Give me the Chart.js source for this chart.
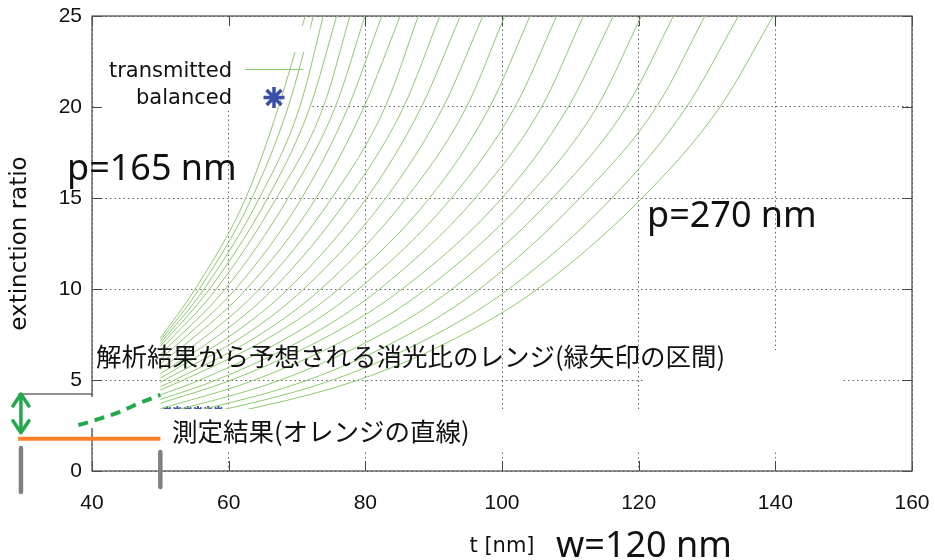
<!DOCTYPE html>
<html>
<head>
<meta charset="utf-8">
<script src="https://cdn.jsdelivr.net/npm/chart.js@4.4.0/dist/chart.umd.min.js"></script>
<style>
  html, body { margin: 0; padding: 0; background: #fff; }
</style>
</head>
<body>
<canvas id="out" width="935" height="560"></canvas>
<script>
// grating pitch of each simulated curve [nm]
const pitchNm = [165, 170, 175, 180, 185, 190, 195, 200, 205, 210, 215, 220, 225, 230, 235, 240, 245, 250, 255, 260, 265, 270];
// extinction ratio where each curve begins (t = 50 nm)
const startER = [7.3, 7.15, 7.0, 6.85, 6.65, 6.4, 6.15, 5.9, 5.62, 5.35, 5.1, 4.87, 4.63, 4.45, 4.18, 3.93, 3.72, 3.42, 3.1, 2.8, 2.55, 2.32];
// thickness t [nm] where each curve passes ER = 5, 7.5, 10, 15, 20, 25
const tAt5 = [null, null, null, null, null, null, null, null, null, null, null, null, 52.1, 53.4, 55.8, 58.2, 60.4, 63.8, 67.6, 71.6, 75.2, 79.0];
const tAt7_5 = [null, null, null, null, null, null, 54.1, 55.4, 57.0, 58.7, 60.5, 62.5, 64.6, 66.7, 69.4, 72.2, 75.0, 78.5, 82.3, 86.3, 90.3, 94.3];
const tAt10 = [55.1, 55.7, 56.4, 57.2, 58.2, 59.5, 61.0, 62.6, 64.5, 66.5, 68.7, 71.0, 73.5, 76.1, 79.0, 82.1, 85.4, 88.9, 92.7, 96.7, 101.0, 105.2];
const tAt15 = [62.5, 63.4, 64.5, 65.7, 67.0, 68.7, 70.7, 72.8, 75.1, 77.5, 80.2, 83.0, 86.0, 89.4, 92.6, 96.1, 100.0, 103.6, 107.4, 111.4, 116.1, 120.5];
const tAt20 = [67.3, 68.7, 70.4, 71.9, 73.85, 75.6, 77.5, 79.8, 82.9, 85.6, 88.2, 91.4, 94.8, 98.2, 101.9, 105.8, 109.7, 113.9, 118.2, 122.6, 127.0, 131.9];
const tAt25 = [71.2, 72.4, 73.85, 75.8, 77.75, 79.95, 82.4, 85.1, 87.75, 90.9, 93.9, 97.2, 100.4, 104.1, 108.0, 111.9, 116.3, 120.4, 125.1, 129.7, 134.6, 139.7];

// balanced points along the bottom
const balancedT = [51, 52.5, 54, 55.5, 57, 58.5];
const balancedER = [3.3, 3.3, 3.3, 3.3, 3.3, 3.3];

// extrapolated range (green dashed) and measurement (orange)
const dashedT = [32, 35, 38, 41, 44, 47, 50];
const dashedER = [2.25, 2.36, 2.53, 2.86, 3.24, 3.74, 4.18];
const measuredT = [29.2, 50];
const measuredER = [1.77, 1.77];
const rangeT = 29.6;
const rangeER = [4.23, 2.1];
const rangeLineT = [29.2, 40];
const barT = [29.6, 50];
const barTop = [1.26, 1.04];
const barBottom = [-1.15, -0.88];

const xTicks = [40, 60, 80, 100, 120, 140, 160];
const yTicks = [0, 5, 10, 15, 20, 25];

const curveColor = '#8ccb6c';
const arrowGreen = '#22a94a';
const starBlue = '#3a50a8';

const levels = [[tAt5, 5], [tAt7_5, 7.5], [tAt10, 10], [tAt15, 15], [tAt20, 20], [tAt25, 25]];

function curvePoints(i) {
  const pts = [{x: 50, y: startER[i]}];
  levels.forEach(([arr, v]) => {
    if (arr[i] !== null) pts.push({x: arr[i], y: v});
  });
  return pts;
}

const datasets = pitchNm.map((p, i) => ({
  label: 'p=' + p,
  data: curvePoints(i),
  borderColor: curveColor,
  borderWidth: 1,
  pointRadius: 0,
  cubicInterpolationMode: 'monotone',
  order: 1
}));

// balanced markers sit with the curves, under the text boxes
datasets.push({
  label: 'balanced',
  data: balancedT.map((t, i) => ({x: t, y: balancedER[i]})),
  showLine: false,
  pointStyle: 'star',
  pointRadius: 5,
  pointBorderWidth: 2,
  pointBorderColor: starBlue,
  order: 1
});

function note(extra) {
  return Object.assign({pointRadius: 0, clip: false, order: 0, tension: 0}, extra);
}

barT.forEach((t, i) => {
  datasets.push(note({
    data: [{x: t, y: barTop[i]}, {x: t, y: barBottom[i]}],
    borderColor: '#808080',
    borderWidth: 4.5,
    borderCapStyle: 'round'
  }));
});
datasets.push(note({
  data: measuredT.map((t, i) => ({x: t, y: measuredER[i]})),
  borderColor: '#ff7f27',
  borderWidth: 4
}));
datasets.push(note({
  data: rangeLineT.map(t => ({x: t, y: rangeER[0]})),
  borderColor: '#222',
  borderWidth: 1
}));
datasets.push(note({
  data: dashedT.map((t, i) => ({x: t, y: dashedER[i]})),
  borderColor: arrowGreen,
  borderWidth: 4,
  borderDash: [10, 7],
  cubicInterpolationMode: 'monotone'
}));
const arrowIndex = datasets.length;
datasets.push(note({
  data: rangeER.map(v => ({x: rangeT, y: v})),
  borderColor: arrowGreen,
  borderWidth: 3.5
}));

// white text boxes laid over the plot
const coverBoxes = [[150, 409, 645, 452], [645, 350, 843, 452], [85, 397, 160, 428], [250, 26, 310, 52]];
let coversDone = false;

const framePlugin = {
  id: 'frame',
  beforeDatasetsDraw(chart) {
    const {ctx, chartArea: a, scales: {x, y}} = chart;
    coversDone = false;
    ctx.save();
    // opaque key area
    ctx.fillStyle = '#fff';
    ctx.fillRect(a.left + 2, a.top + 1, 312 - a.left - 2, 111 - a.top - 1);
    ctx.strokeStyle = '#444';
    ctx.lineWidth = 1;
    ctx.beginPath();
    xTicks.forEach(v => {
      const px = Math.round(x.getPixelForValue(v)) + 0.5;
      ctx.moveTo(px, a.bottom); ctx.lineTo(px, a.bottom - 10);
      ctx.moveTo(px, a.top); ctx.lineTo(px, a.top + 10);
    });
    yTicks.forEach(v => {
      const py = Math.round(y.getPixelForValue(v)) + 0.5;
      ctx.moveTo(a.left, py); ctx.lineTo(a.left + 10, py);
      ctx.moveTo(a.right, py); ctx.lineTo(a.right - 10, py);
    });
    ctx.stroke();
    ctx.strokeStyle = '#555';
    ctx.lineWidth = 1.3;
    ctx.strokeRect(a.left, a.top, a.right - a.left, a.bottom - a.top);
    ctx.restore();
  },
  beforeDatasetDraw(chart, args) {
    if (chart.data.datasets[args.index].order !== 0 || coversDone) return;
    coversDone = true;
    const ctx = chart.ctx;
    ctx.save();
    ctx.fillStyle = '#fff';
    coverBoxes.forEach(([x1, y1, x2, y2]) => ctx.fillRect(x1, y1, x2 - x1, y2 - y1));
    ctx.restore();
  },
  afterDatasetsDraw(chart) {
    // heads of the double arrow
    const ctx = chart.ctx;
    const pts = chart.getDatasetMeta(arrowIndex).data;
    if (pts.length < 2) return;
    const top = pts[0], bot = pts[1];
    ctx.save();
    ctx.strokeStyle = arrowGreen;
    ctx.lineWidth = 3.5;
    ctx.lineCap = 'round';
    ctx.lineJoin = 'round';
    ctx.beginPath();
    ctx.moveTo(top.x - 8, top.y + 12); ctx.lineTo(top.x, top.y); ctx.lineTo(top.x + 8, top.y + 12);
    ctx.moveTo(bot.x - 8, bot.y - 12); ctx.lineTo(bot.x, bot.y); ctx.lineTo(bot.x + 8, bot.y - 12);
    ctx.stroke();
    ctx.restore();
  },
  afterDraw(chart) {
    const ctx = chart.ctx;
    ctx.save();
    ctx.fillStyle = '#111';
    ctx.textBaseline = 'alphabetic';

    // key
    ctx.font = '21px "DejaVu Sans"';
    ctx.textAlign = 'right';
    ctx.fillText('transmitted', 232, 77);
    ctx.fillText('balanced', 232, 104);
    ctx.strokeStyle = curveColor;
    ctx.lineWidth = 1;
    ctx.beginPath();
    ctx.moveTo(245, 69.5); ctx.lineTo(303, 69.5);
    ctx.stroke();
    ctx.strokeStyle = starBlue;
    ctx.lineWidth = 3.5;
    ctx.beginPath();
    const cx = 274, cy = 97.5, r = 10.5, d = r * Math.SQRT1_2;
    ctx.moveTo(cx, cy - r); ctx.lineTo(cx, cy + r);
    ctx.moveTo(cx - r, cy); ctx.lineTo(cx + r, cy);
    ctx.moveTo(cx - d, cy - d); ctx.lineTo(cx + d, cy + d);
    ctx.moveTo(cx - d, cy + d); ctx.lineTo(cx + d, cy - d);
    ctx.stroke();

    ctx.textAlign = 'left';
    ctx.font = '36px "Noto Sans"';
    ctx.fillText('p=165 nm', 67, 180);
    ctx.fillText('p=270 nm', 647, 227);
    ctx.fillText('w=120 nm', 556, 557);

    ctx.font = '25.5px "Noto Sans CJK JP"';
    ctx.fillText('解析結果から予想される消光比のレンジ(緑矢印の区間)', 96, 366);
    ctx.fillText('測定結果(オレンジの直線)', 172, 441);
    ctx.restore();
  }
};

const chart = new Chart(document.getElementById('out').getContext('2d'), {
  type: 'line',
  data: {datasets: datasets},
  options: {
    responsive: false,
    animation: false,
    devicePixelRatio: 1,
    layout: {padding: {top: 16, right: 23, left: 0, bottom: 0}},
    plugins: {legend: {display: false}, tooltip: {enabled: false}},
    scales: {
      x: {
        type: 'linear',
        min: 40,
        max: 160,
        afterBuildTicks: s => { s.ticks = xTicks.map(v => ({value: v})); },
        afterFit: s => { s.height = 89; s.paddingLeft = 0; s.paddingRight = 0; },
        ticks: {padding: 20, color: '#111', maxRotation: 0, autoSkip: false,
          font: {family: 'Liberation Sans', size: 21}},
        grid: {color: '#666', lineWidth: 1, drawTicks: false},
        border: {display: false, dash: [1.5, 3]},
        title: {display: true, text: 't [nm]', color: '#111',
          font: {family: 'DejaVu Sans', size: 21}, padding: {top: 0, bottom: 1}}
      },
      y: {
        type: 'linear',
        min: 0,
        max: 25,
        afterBuildTicks: s => { s.ticks = yTicks.map(v => ({value: v})); },
        afterFit: s => { s.width = 92; s.paddingTop = 0; s.paddingBottom = 0; },
        ticks: {padding: 10, color: '#111',
          font: {family: 'Liberation Sans', size: 21}},
        grid: {color: '#666', lineWidth: 1, drawTicks: false},
        border: {display: false, dash: [1.5, 3]},
        title: {display: true, text: 'extinction ratio', color: '#111',
          font: {family: 'DejaVu Sans', size: 23}, padding: {top: 6, bottom: 0}}
      }
    }
  },
  plugins: [framePlugin]
});
</script>
</body>
</html>
